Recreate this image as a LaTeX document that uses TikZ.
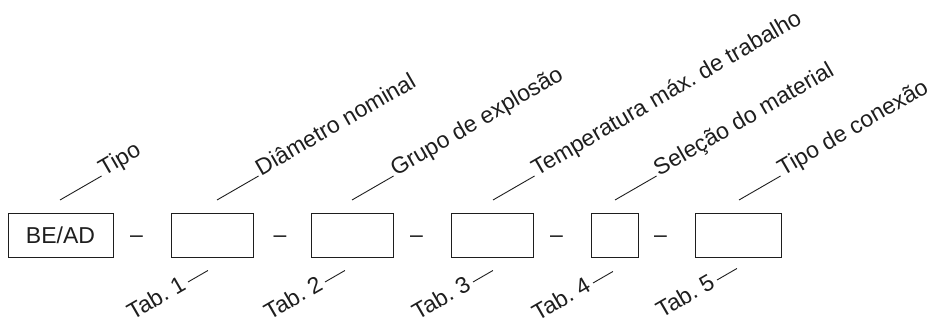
\documentclass[tikz,border=0pt]{standalone}
\usepackage{fontspec}
\setmainfont{Liberation Sans}
\usetikzlibrary{calc}
\frenchspacing
\definecolor{ink}{HTML}{1E1E1E}
\tikzset{
  every node/.style={font=\fontsize{23}{27}\selectfont, text=ink},
  field/.style={draw=ink, line width=0.9pt, minimum height=44pt, inner sep=0pt},
  sep/.style={anchor=base, inner sep=0pt},
  leader/.style={draw=ink, line width=0.9pt},
  toplabel/.style={anchor=base west, rotate=30, inner sep=0pt},
  tablabel/.style={anchor=base east, rotate=30, inner sep=0pt}
}
\begin{document}
\begin{tikzpicture}[x=1pt,y=1pt]
\useasboundingbox (0,0) rectangle (936,320);

% code fields
\node[field, minimum width=105pt] (b1) at (60.5,85) {BE/AD};
\node[field, minimum width=82pt]  (b2) at (212,85) {};
\node[field, minimum width=82pt]  (b3) at (352,85) {};
\node[field, minimum width=82pt]  (b4) at (492,85) {};
\node[field, minimum width=47pt]  (b5) at (614.5,85) {};
\node[field, minimum width=86pt]  (b6) at (738,85) {};

% separators
\node[sep] (s1) at (136.5,77) {–};
\node[sep] (s2) at (280,77) {–};
\node[sep] (s3) at (416.5,77) {–};
\node[sep] (s4) at (556.5,77) {–};
\node[sep] (s5) at (660.5,77) {–};

% upper leaders with descriptions
\foreach \i/\x/\txt in {1/60/Tipo, 2/217/Diâmetro nominal, 3/352/Grupo de explosão,
    4/493/Temperatura máx. de trabalho, 5/615/Seleção do material, 6/739/Tipo de conexão}{
  \coordinate (u\i) at (\x,120);
  \path (u\i) ++(30:48) coordinate (u\i e);
  \node[toplabel] (d\i) at ($(u\i e)+(30:2)+(-60:1.5)$) {\txt};
  \draw[leader] (u\i) -- (u\i e);
}

% lower leaders with table references
\foreach \i/\x/\y in {1/188/38, 2/325/38, 3/473/38, 4/593/37, 5/717/40}{
  \coordinate (l\i) at (\x,\y);
  \path (l\i) ++(30:23) coordinate (l\i e);
  \node[tablabel] (t\i) at ($(l\i)+(210:4)+(-60:5.5)$) {Tab. \i};
  \draw[leader] (l\i) -- (l\i e);
}
\end{tikzpicture}
\end{document}
